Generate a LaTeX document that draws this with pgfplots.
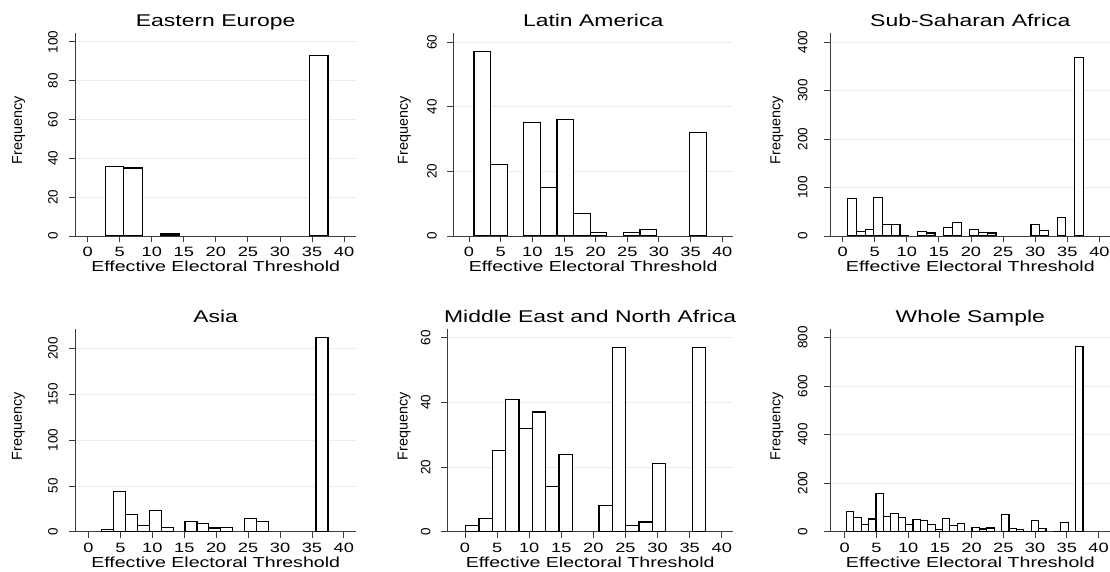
\documentclass[border=0pt]{standalone}
\usepackage{fontspec}
\setmainfont{Liberation Sans}
\newfontfamily\widefont{Liberation Sans}[FakeStretch=1.35]
\newfontfamily\normfont{Liberation Sans}
\usepackage{pgfplots}
\pgfplotsset{compat=1.18}
\definecolor{gridc}{RGB}{230,238,240}
\definecolor{axc}{RGB}{60,60,60}
\newcommand\yfont{\normfont\fontsize{13.5bp}{16bp}\selectfont}
\newcommand\ylfont{\normfont\fontsize{14.4bp}{17bp}\selectfont}
\pgfplotsset{
  panel/.style={
    scale only axis,
    height=203bp,
    anchor=south west,
    axis x line*=bottom, axis y line*=left,
    axis line style={axc, line width=0.9bp},
    tick style={axc, line width=0.9bp},
    tick align=outside,
    major tick length=6.3bp,
    xtick={0,5,...,40},
    ymin=0,
    ymajorgrids, major grid style={gridc, line width=0.9bp},
    /pgf/number format/assume math mode=true,
    xticklabel style={font=\widefont\fontsize{13.5bp}{16bp}\selectfont, anchor=base, inner sep=0pt},
    xticklabel shift=14.2bp,
    yticklabel style={font=\yfont, rotate=90, anchor=south, inner sep=0pt},
    every axis title/.style={font=\widefont\fontsize{17bp}{20bp}\selectfont, at={(axis description cs:0.5,1)}, anchor=base, yshift=6.2bp},
    xlabel={Effective Electoral Threshold},
    every axis x label/.style={font=\widefont\fontsize{14.5bp}{17bp}\selectfont, at={(axis description cs:0.5,0)}, anchor=base, yshift=-35.9bp},
    ylabel={\ylfont Frequency},
  },
  ylab/.style={every axis y label/.style={font=\ylfont, at={([xshift=-#1, yshift=4bp]axis description cs:0,0.5)}, anchor=center, rotate=90}},
  hbar/.style={ybar, bar width=#1, bar shift=0pt, fill=white, draw=black, line width=1.2bp},
}
\begin{document}
\begin{tikzpicture}
\useasboundingbox (0,0) rectangle (1110bp,572bp);
% Eastern Europe
\begin{axis}[panel, at={(75.3bp,336bp)}, width=280.7bp, xmin=-1.93, xmax=41.86, ymax=104.6,
  ytick={0,20,...,100}, title={Eastern Europe}, ylab=56.6bp, yticklabel shift=11bp]
\addplot[hbar=2.898] coordinates {(4.169,36) (7.067,35) (12.863,1) (36.047,93)};
\end{axis}
% Latin America
\begin{axis}[panel, at={(453.3bp,336bp)}, width=279.7bp, xmin=-2.48, xmax=41.7, ymax=62.8,
  ytick={0,20,40,60}, title={Latin America}, ylab=49bp, yticklabel shift=10bp]
\addplot[hbar=2.622] coordinates {(2.101,57) (4.723,22) (9.967,35) (12.589,15) (15.211,36)
  (17.833,7) (20.455,1) (25.699,1) (28.321,2) (36.187,32)};
\end{axis}
% Sub-Saharan Africa
\begin{axis}[panel, at={(830.7bp,336bp)}, width=279.3bp, xmin=-1.85, xmax=41.65, ymax=418.6,
  ytick={0,100,...,400}, title={Sub-Saharan Africa}, ylab=53.7bp, yticklabel shift=16.7bp]
\addplot[hbar=1.3596] coordinates {(1.470,78) (2.829,10) (4.189,14) (5.549,80) (6.908,24)
  (8.268,23) (9.627,1) (12.347,10) (13.706,6) (16.426,17) (17.785,28) (20.504,13)
  (21.864,7) (23.224,6) (30.022,24) (31.381,11) (34.100,38) (36.820,368)};
\end{axis}
% Asia
\begin{axis}[panel, at={(75.3bp,40.3bp)}, width=280.7bp, xmin=-2.07, xmax=41.9, ymax=221.9,
  ytick={0,50,...,200}, title={Asia}, ylab=57bp, yticklabel shift=11bp]
\addplot[hbar=1.865] coordinates {(3.003,2) (4.868,44) (6.733,19) (8.598,7) (10.463,23)
  (12.328,5) (16.058,11) (17.923,9) (19.788,4) (21.653,5) (25.383,14) (27.248,11) (36.573,212)};
\end{axis}
% Middle East and North Africa
\begin{axis}[panel, at={(447bp,40.3bp)}, width=286.3bp, xmin=-2.8, xmax=41.8, ymax=62.8,
  ytick={0,20,40,60}, title={Middle East and North Africa}, ylab=42.8bp, yticklabel shift=10bp]
\addplot[hbar=2.078] coordinates {(1.139,2) (3.217,4) (5.295,25) (7.373,41) (9.451,32)
  (11.529,37) (13.607,14) (15.685,24) (21.919,8) (23.997,57) (26.075,2) (28.153,3)
  (30.231,21) (36.465,57)};
\end{axis}
% Whole Sample
\begin{axis}[panel, at={(830.7bp,40.3bp)}, width=279.3bp, xmin=-2.2, xmax=41.8, ymax=837,
  ytick={0,200,...,800}, title={Whole Sample}, ylab=53.7bp, yticklabel shift=16.7bp]
\addplot[hbar=1.1647] coordinates {(0.852,84) (2.017,59) (3.182,29) (4.346,52) (5.511,157)
  (6.676,62) (7.841,74) (9.005,60) (10.170,30) (11.335,49) (12.499,45) (13.664,30)
  (14.829,10) (15.994,54) (17.158,25) (18.323,33) (20.652,18) (21.817,11) (22.982,15)
  (25.311,71) (26.476,12) (27.640,10) (28.805,2) (29.970,45) (31.134,12) (33.464,2)
  (34.628,38) (36.958,765)};
\end{axis}
\end{tikzpicture}
\end{document}
